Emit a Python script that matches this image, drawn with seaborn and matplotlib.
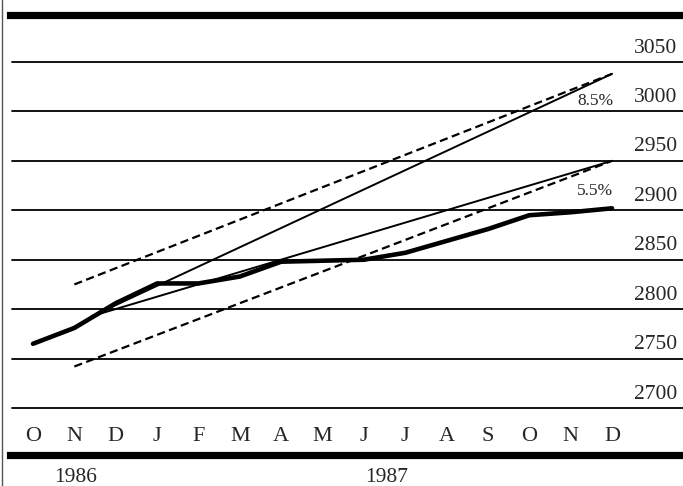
import numpy as np
import pandas as pd
import matplotlib
matplotlib.use('Agg')
import matplotlib.pyplot as plt
import seaborn as sns
from matplotlib.lines import Line2D

# monthly values, Oct 1986 .. Dec 1987
months = ['O', 'N', 'D', 'J', 'F', 'M', 'A', 'M', 'J', 'J', 'A', 'S', 'O', 'N', 'D']
values = [2765, 2781, 2806, 2826, 2826, 2833, 2848, 2849, 2850, 2857, 2869, 2881, 2895, 2898, 2902]

# growth paths (start / end points, x as month index)
trend_x = [1.43, 14]
trend_85 = [2793, 3038]
trend_55 = [2793, 2950]
band_x = [1, 14]
band_upper = [2825, 3038]
band_lower = [2742, 2950]
rate_labels = ['8.5%', '5.5%']

y_ticks = [2700, 2750, 2800, 2850, 2900, 2950, 3000, 3050]
years = ['1986', '1987']

sns.set_theme(style='white')
plt.rcParams['font.family'] = ['Liberation Serif', 'DejaVu Serif']

fig = plt.figure(figsize=(6.83, 4.86), dpi=100)
ax = fig.add_axes([10 / 683, 31 / 486, 673 / 683, 440 / 486])

df = pd.DataFrame({'idx': np.arange(len(months)), 'value': values})
sns.lineplot(data=df, x='idx', y='value', color='black', linewidth=3.3, ax=ax)

ax.plot(trend_x, trend_85, color='black', linewidth=1.4)
ax.plot(trend_x, trend_55, color='black', linewidth=1.4)
ax.plot(band_x, band_upper, color='black', linewidth=1.6, linestyle=(0, (3.7, 2.0)))
ax.plot(band_x, band_lower, color='black', linewidth=1.6, linestyle=(0, (3.7, 2.0)))

for v in y_ticks:
    ax.axhline(v, color='black', linewidth=1.3, xmin=2 / 673, zorder=0)
    ax.text(0.991, v + 4.5, str(v), transform=ax.get_yaxis_transform(),
            ha='right', va='bottom', fontsize=15.5)

for i, m in enumerate(months):
    ax.text(i, 2671, m, ha='center', va='center', fontsize=16)

ax.text(13.6, 3002, rate_labels[0], ha='center', va='bottom', fontsize=12.5)
ax.text(13.6, 2911, rate_labels[1], ha='center', va='bottom', fontsize=12.5)

ax.set_xlim(-0.556, 15.716)
ax.set_ylim(2652.5, 3097.5)
ax.set_xticks([])
ax.set_yticks([])
ax.set_xlabel('')
ax.set_ylabel('')
for s in ['left', 'right']:
    ax.spines[s].set_visible(False)
for s in ['top', 'bottom']:
    ax.spines[s].set_linewidth(5.2)
    ax.spines[s].set_color('black')

fig.text(76 / 683, 1 - 477 / 486, years[0], ha='center', va='center', fontsize=15.5)
fig.text(387 / 683, 1 - 477 / 486, years[1], ha='center', va='center', fontsize=15.5)

fig.add_artist(Line2D([2 / 683, 2 / 683], [0, 1], color='#555555', linewidth=1.0,
                      transform=fig.transFigure))

fig.savefig('out.png', dpi=100)
